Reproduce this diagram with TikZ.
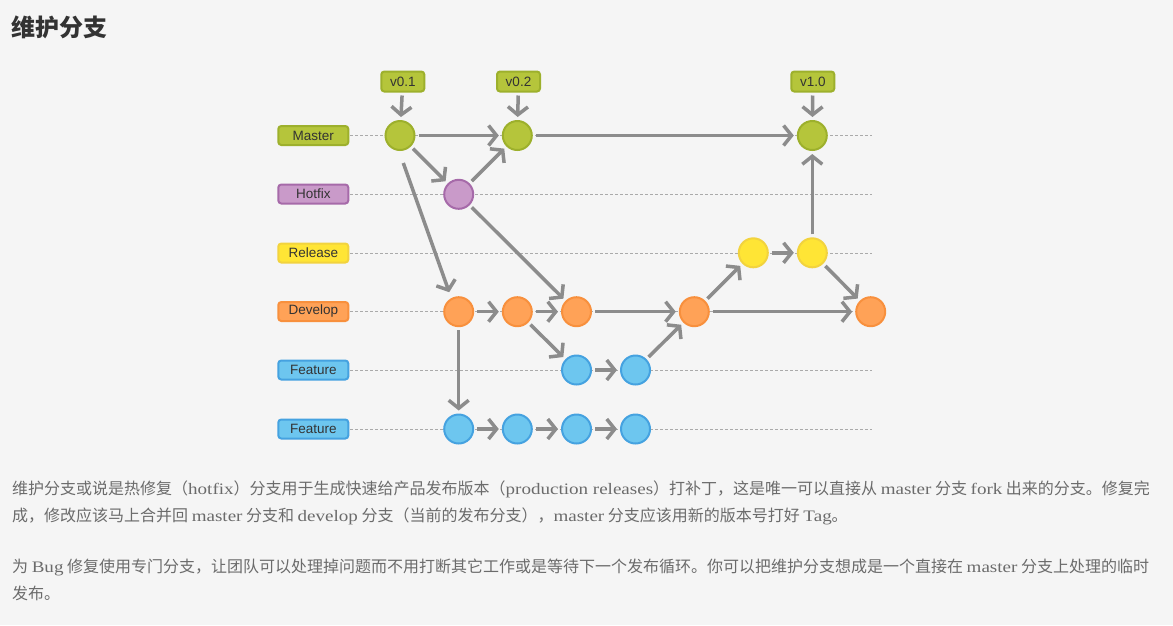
\documentclass[tikz,border=0pt]{standalone}
\usepackage{fontspec}
\setmainfont[FakeStretch=1.19]{Liberation Serif}
\newfontfamily\cjk{Noto Sans CJK SC}
\newfontfamily\lsans{Liberation Sans}
\usetikzlibrary{arrows.meta,calc}
\definecolor{bg}{HTML}{F5F5F5}
\definecolor{txt}{HTML}{333333}
\definecolor{bodyc}{HTML}{6B6B6B}
\definecolor{arrc}{HTML}{8C8C8C}
\definecolor{dashc}{HTML}{AAAAAA}
\definecolor{mfill}{HTML}{B5C53B}
\definecolor{mline}{HTML}{9DB02C}
\definecolor{hfill}{HTML}{C99AC9}
\definecolor{hline}{HTML}{A66AA9}
\definecolor{rfill}{HTML}{FFE535}
\definecolor{rline}{HTML}{F2D33E}
\definecolor{dfill}{HTML}{FFA257}
\definecolor{dline}{HTML}{F8903D}
\definecolor{ffill}{HTML}{6DC6EF}
\definecolor{fline}{HTML}{45A2E0}
\newcommand\lat[1]{{\rmfamily #1}}
\begin{document}
\begin{tikzpicture}[x=1pt,y=-1pt,
  commit/.style={circle, minimum size=29pt, inner sep=0pt, outer sep=0pt, line width=2pt},
  mc/.style={commit, fill=mfill, draw=mline},
  hc/.style={commit, fill=hfill, draw=hline},
  rc/.style={commit, fill=rfill, draw=rline},
  dc/.style={commit, fill=dfill, draw=dline},
  fc/.style={commit, fill=ffill, draw=fline},
  lbl/.style={rounded corners=3pt, minimum width=70pt, minimum height=19pt, line width=2pt,
    inner sep=0pt, outer sep=0pt, font=\lsans\fontsize{13.5}{13.5}\selectfont, text=txt},
  tag/.style={lbl, minimum width=43pt, minimum height=20pt, fill=mfill, draw=mline},
  arr/.style={draw=arrc, line width=3.5pt, -{Straight Barb[length=8pt,width=20pt]},
    shorten <=4pt, shorten >=4pt},
  dashline/.style={draw=dashc, line width=0.8pt, dash pattern=on 3pt off 2pt},
  bodytext/.style={anchor=west, inner sep=0pt, text=bodyc, font=\cjk\fontsize{16}{16}\selectfont}
]
\fill[bg] (0,0) rectangle (1173,625);
\useasboundingbox (0,0) rectangle (1173,625);

% title
\node[anchor=west, inner sep=0pt, text=txt, font=\cjk\bfseries\fontsize{24}{24}\selectfont] (title) at (11,27) {维护分支};

% branch labels
\node[lbl, fill=mfill, draw=mline] (lm) at (313.3,135.5) {Master};
\node[lbl, fill=hfill, draw=hline] (lh) at (313.3,194) {Hotfix};
\node[lbl, fill=rfill, draw=rline] (lr) at (313.3,253) {Release};
\node[lbl, fill=dfill, draw=dline] (ld) at (313.3,311.5) {Develop};
\node[lbl, fill=ffill, draw=fline] (lf) at (313.3,370) {Feature};
\node[lbl, fill=ffill, draw=fline] (lg) at (313.3,429) {Feature};

% dashed guide lines
\coordinate (em) at (872,135.5);
\coordinate (eh) at (872,194);
\coordinate (er) at (872,253);
\coordinate (ed) at (872,311.5);
\coordinate (ef) at (872,370);
\coordinate (eg) at (872,429);
\foreach \a/\b in {lm/em, lh/eh, lr/er, ld/ed, lf/ef, lg/eg}
  \draw[dashline] ($(\a.east)+(2,0)$) -- (\b);

% tags
\node[tag] (t1) at (402.8,81.5) {v0.1};
\node[tag] (t2) at (518.5,81.5) {v0.2};
\node[tag] (t3) at (812.8,81.5) {v1.0};

% commits
\node[mc] (m0) at (400,135.5) {};
\node[mc] (m1) at (517.3,135.5) {};
\node[mc] (m2) at (812.3,135.5) {};
\node[hc] (h0) at (458.7,194.3) {};
\node[rc] (r0) at (753.3,252.8) {};
\node[rc] (r1) at (812.3,252.8) {};
\node[dc] (d0) at (458.7,311.7) {};
\node[dc] (d1) at (517.3,311.7) {};
\node[dc] (d2) at (576.5,311.7) {};
\node[dc] (d3) at (694.3,311.7) {};
\node[dc] (d4) at (870.7,311.7) {};
\node[fc] (f0) at (576.5,370) {};
\node[fc] (f1) at (635.5,370) {};
\node[fc] (g0) at (458.7,429) {};
\node[fc] (g1) at (517.3,429) {};
\node[fc] (g2) at (576.5,429) {};
\node[fc] (g3) at (635.5,429) {};

% connectors
\draw[arr] (t1) -- (m0);
\draw[arr] (t2) -- (m1);
\draw[arr] (t3) -- (m2);
\draw[arr] (m0) -- (m1);
\draw[arr] (m0) -- (h0);
\draw[arr] (h0) -- (m1);
\draw[arr] (m1) -- (m2);
\draw[arr, shorten <=0pt, shorten >=0pt] ($(m0.center)+(3.3,27.5)$) -- ($(d0.center)+(-9.5,-19.5)$);
\draw[arr] (h0) -- (d2);
\draw[arr] (d0) -- (d1);
\draw[arr] (d1) -- (d2);
\draw[arr] (d2) -- (d3);
\draw[arr] (d3) -- (d4);
\draw[arr] (d1) -- (f0);
\draw[arr] (f0) -- (f1);
\draw[arr] (f1) -- (d3);
\draw[arr] (d3) -- (r0);
\draw[arr] (r0) -- (r1);
\draw[arr] (r1) -- (m2);
\draw[arr] (r1) -- (d4);
\draw[arr] (d0) -- (g0);
\draw[arr] (g0) -- (g1);
\draw[arr] (g1) -- (g2);
\draw[arr] (g2) -- (g3);

% body text
\node[bodytext] (p1) at (12,489) {维护分支或说是热修复（\lat{hotfix}）分支用于生成快速给产品发布版本（\lat{production releases}）打补丁，这是唯一可以直接从 \lat{master} 分支 \lat{fork} 出来的分支。修复完};
\node[bodytext] (p2) at (12,516) {成，修改应该马上合并回 \lat{master} 分支和 \lat{develop} 分支（当前的发布分支），\lat{master} 分支应该用新的版本号打好 \lat{Tag}。};
\node[bodytext] (p3) at (12,567) {为 \lat{Bug} 修复使用专门分支，让团队可以处理掉问题而不用打断其它工作或是等待下一个发布循环。你可以把维护分支想成是一个直接在 \lat{master} 分支上处理的临时};
\node[bodytext] (p4) at (12,593) {发布。};
\end{tikzpicture}
\end{document}
